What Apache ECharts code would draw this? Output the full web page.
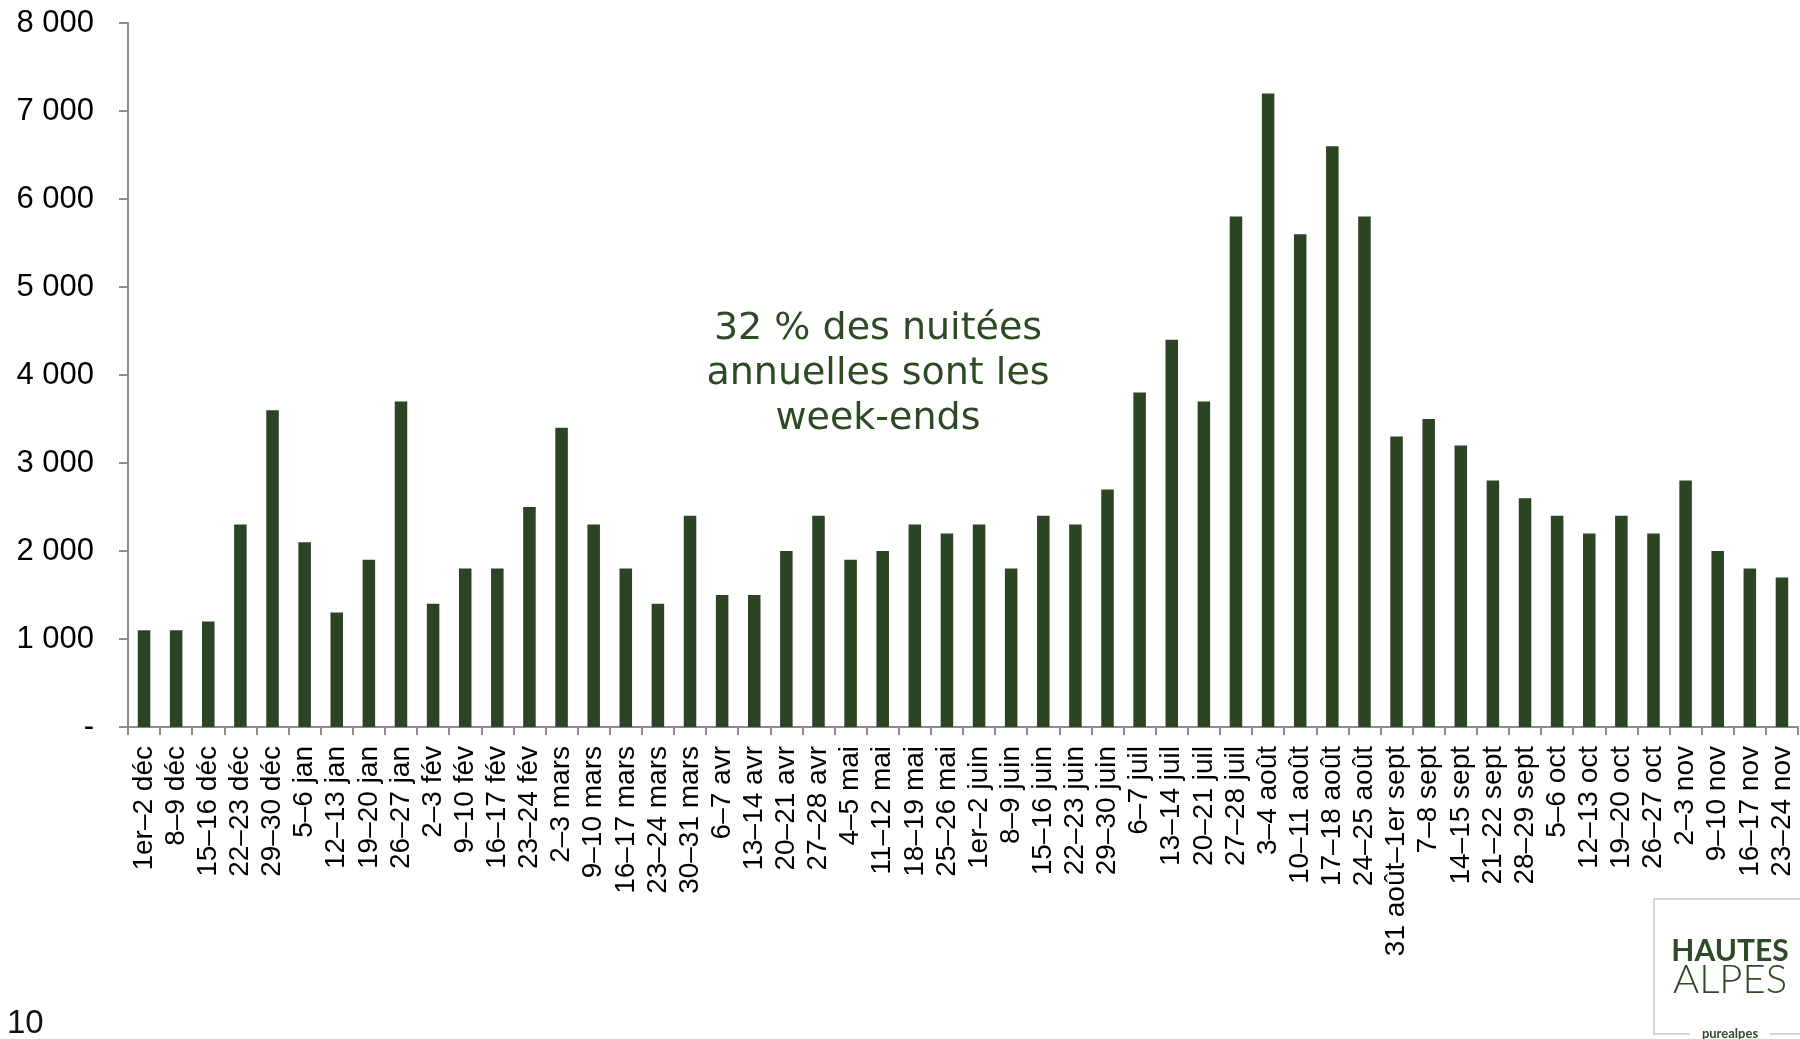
<!DOCTYPE html>
<html>
<head>
<meta charset="utf-8">
<script src="https://cdn.jsdelivr.net/npm/echarts@6/dist/echarts.min.js"></script>
<style>
html,body{margin:0;padding:0;background:#fff;}
#chart{width:1800px;height:1039px;}
</style>
</head>
<body>
<div id="chart"></div>
<script>
const categories = [
  "1er–2 déc","8–9 déc","15–16 déc","22–23 déc","29–30 déc",
  "5–6 jan","12–13 jan","19–20 jan","26–27 jan",
  "2–3 fév","9–10 fév","16–17 fév","23–24 fév",
  "2–3 mars","9–10 mars","16–17 mars","23–24 mars","30–31 mars",
  "6–7 avr","13–14 avr","20–21 avr","27–28 avr",
  "4–5 mai","11–12 mai","18–19 mai","25–26 mai",
  "1er–2 juin","8–9 juin","15–16 juin","22–23 juin","29–30 juin",
  "6–7 juil","13–14 juil","20–21 juil","27–28 juil",
  "3–4 août","10–11 août","17–18 août","24–25 août",
  "31 août–1er sept","7–8 sept","14–15 sept","21–22 sept","28–29 sept",
  "5–6 oct","12–13 oct","19–20 oct","26–27 oct",
  "2–3 nov","9–10 nov","16–17 nov","23–24 nov"
];
const nuitees = [
  1100,1100,1200,2300,3600,
  2100,1300,1900,3700,
  1400,1800,1800,2500,
  3400,2300,1800,1400,2400,
  1500,1500,2000,2400,
  1900,2000,2300,2200,
  2300,1800,2400,2300,2700,
  3800,4400,3700,5800,
  7200,5600,6600,5800,
  3300,3500,3200,2800,2600,
  2400,2200,2400,2200,
  2800,2000,1800,1700
];
const yTicks = { min: 0, max: 8000, interval: 1000 };
const annotation = "32 % des nuitées\nannuelles sont les\nweek-ends";
const pageNumber = "10";

const green = '#2b4423';
const textGreen = '#2e4a24';
const axisGray = '#8c8c8c';

function fmtY(v) {
  if (v === 0) return '-';
  const s = String(v);
  return s.replace(/\B(?=(\d{3})+(?!\d))/g, ' ');
}

const chart = echarts.init(document.getElementById('chart'));
chart.setOption({
  backgroundColor: '#ffffff',
  animation: false,
  grid: { left: 128, right: 2, top: 23, bottom: 312, containLabel: false },
  xAxis: {
    type: 'category',
    data: categories,
    boundaryGap: true,
    axisLine: { lineStyle: { color: axisGray, width: 2 } },
    axisTick: { show: true, alignWithLabel: false, length: 8, lineStyle: { color: axisGray, width: 2 } },
    axisLabel: {
      interval: 0, rotate: 90, margin: 19,
      fontFamily: 'Liberation Sans, Arial, sans-serif', fontSize: 28, color: '#000000'
    }
  },
  yAxis: {
    type: 'value',
    min: yTicks.min, max: yTicks.max, interval: yTicks.interval,
    axisLine: { show: true, lineStyle: { color: axisGray, width: 2 } },
    axisTick: { show: true, length: 9, lineStyle: { color: axisGray, width: 2 } },
    splitLine: { show: false },
    axisLabel: {
      margin: 34, formatter: fmtY,
      fontFamily: 'Liberation Sans, Arial, sans-serif', fontSize: 31, color: '#000000'
    }
  },
  series: [{
    type: 'bar',
    data: nuitees,
    barWidth: '39%',
    itemStyle: { color: green },
    silent: true
  }],
  graphic: [
    {
      type: 'text', z: 10,
      style: {
        text: annotation, x: 878, y: 374, align: 'center', verticalAlign: 'middle',
        font: '38px "DejaVu Sans", sans-serif', lineHeight: 45, fill: textGreen
      }
    },
    {
      type: 'text',
      style: { text: pageNumber, x: 7, y: 1024, verticalAlign: 'middle',
        font: '33px "Liberation Sans", Arial, sans-serif', fill: '#111111' }
    },
    {
      type: 'polyline',
      shape: { points: [[1800, 899], [1654, 899], [1654, 1034], [1690, 1034]] },
      style: { stroke: '#c8c8c8', lineWidth: 1.5, fill: null }
    },
    {
      type: 'line',
      shape: { x1: 1770, y1: 1034, x2: 1800, y2: 1034 },
      style: { stroke: '#c8c8c8', lineWidth: 1.5 }
    },
    {
      type: 'text',
      style: { text: 'HAUTES', x: 1730, y: 951, align: 'center', verticalAlign: 'middle',
        font: 'bold 30px Lato, "Open Sans", sans-serif', fill: '#2f4a26' }
    },
    {
      type: 'text',
      style: { text: 'ALPES', x: 1730, y: 980, align: 'center', verticalAlign: 'middle',
        font: '300 40px Lato, "Open Sans", sans-serif', fill: '#2f4a26' }
    },
    {
      type: 'text',
      style: { text: 'purealpes', x: 1730, y: 1034, align: 'center', verticalAlign: 'middle',
        font: 'bold 13px Lato, "Open Sans", sans-serif', fill: '#2f4a26' }
    }
  ]
});
</script>
</body>
</html>
